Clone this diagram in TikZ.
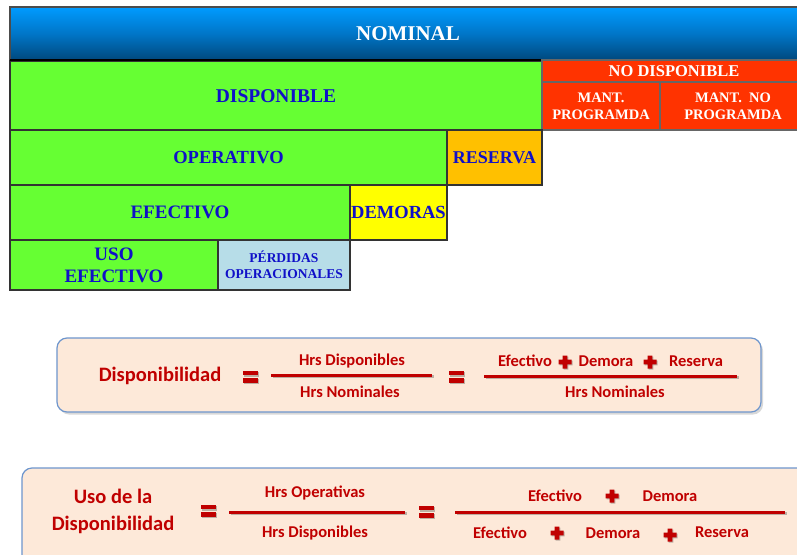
\documentclass[tikz,border=0pt]{standalone}
\usepackage{fontspec}
\setmainfont{Liberation Serif}
\newfontfamily\formfont{Carlito}
\usetikzlibrary{shadows}
\definecolor{cgreen}{RGB}{102,255,51}
\definecolor{cred}{RGB}{255,51,0}
\definecolor{corange}{RGB}{255,192,0}
\definecolor{cyellow}{RGB}{255,255,0}
\definecolor{clblue}{RGB}{183,221,232}
\definecolor{ctxtblue}{RGB}{16,16,200}
\definecolor{formred}{RGB}{192,0,0}
\definecolor{formfill}{RGB}{253,233,217}
\definecolor{formborder}{RGB}{110,150,205}
\definecolor{nomtop}{RGB}{0,155,255}
\definecolor{nombot}{RGB}{0,72,125}
\tikzset{
  cell/.style={draw=black!80, line width=1.2pt, inner sep=0pt, outer sep=0pt,
    align=center, font=\bfseries, text=ctxtblue},
  formbox/.style={draw=formborder, line width=1.2pt, fill=formfill, rounded corners=10pt,
    drop shadow={opacity=0.3, shadow xshift=2pt, shadow yshift=-2.5pt}},
  ftext/.style={font=\formfont\bfseries\fontsize{16.5}{18}\selectfont, text=formred, inner sep=0pt},
  fbig/.style={font=\formfont\bfseries\fontsize{20.5}{27}\selectfont, text=formred, inner sep=0pt, align=center},
  eqmark/.pic={
    \fill[black, opacity=0.25] (-6.5,-5.5) rectangle (8.5,-0.5);
    \fill[black, opacity=0.25] (-6.5,2) rectangle (8.5,7);
    \fill[formred] (-7.5,-6.5) rectangle (7.5,-1.8);
    \fill[formred] (-7.5,1.2) rectangle (7.5,5.8);
  },
  plusmark/.pic={
    \fill[black, opacity=0.25, shift={(1,1)}] (-2.4,-6.5)--(2.4,-6.5)--(2.4,-2.4)--(6.5,-2.4)--(6.5,2.4)--(2.4,2.4)--(2.4,6.5)--(-2.4,6.5)--(-2.4,2.4)--(-6.5,2.4)--(-6.5,-2.4)--(-2.4,-2.4)--cycle;
    \fill[formred] (-2.4,-6.5)--(2.4,-6.5)--(2.4,-2.4)--(6.5,-2.4)--(6.5,2.4)--(2.4,2.4)--(2.4,6.5)--(-2.4,6.5)--(-2.4,2.4)--(-6.5,2.4)--(-6.5,-2.4)--(-2.4,-2.4)--cycle;
  },
}
\newcommand{\fracline}[3]{%
  \draw[black, opacity=0.25, line width=3pt] (#1+1.5,#3+1.5) -- (#2+1.5,#3+1.5);
  \draw[formred, line width=3pt] (#1,#3) -- (#2,#3);}
\begin{document}
\begin{tikzpicture}[x=1pt, y=-1pt]
\useasboundingbox (0,0) rectangle (797,554);
\clip (0,0) rectangle (797,554);
\fill[white] (0,0) rectangle (797,554);
% top blocks
\node[cell, draw=black!70, top color=nomtop, bottom color=nombot, middle color={rgb,255:red,0;green,118;blue,200},
  minimum width=796pt, minimum height=53pt, text=white, font=\bfseries\fontsize{21}{24}\selectfont]
  (nominal) at (408,33.5) {NOMINAL};
\node[cell, fill=cgreen, minimum width=532pt, minimum height=70pt, font=\bfseries\fontsize{19.5}{22}\selectfont]
  (disp) at (276,96) {DISPONIBLE};
\draw[black, line width=2pt] (nominal.south west) -- (nominal.south east);
\node[cell, fill=cred, draw=black!60, minimum width=264pt, minimum height=22pt, text=white, font=\bfseries\fontsize{16.5}{18}\selectfont]
  (nodisp) at (674,71) {NO DISPONIBLE};
\node[cell, fill=cred, draw=black!60, minimum width=118pt, minimum height=48pt, text=white, font=\bfseries\fontsize{14.5}{17}\selectfont]
  (mantp) at (601,106) {MANT.\\PROGRAMDA};
\node[cell, fill=cred, draw=black!60, minimum width=146pt, minimum height=48pt, text=white, font=\bfseries\fontsize{14.5}{17}\selectfont]
  (mantnp) at (733,106) {MANT.~~NO\\PROGRAMDA};
\node[cell, fill=cgreen, minimum width=437pt, minimum height=55pt, font=\bfseries\fontsize{18.5}{21}\selectfont]
  (oper) at (228.5,157.5) {OPERATIVO};
\node[cell, fill=corange, minimum width=95pt, minimum height=55pt, font=\bfseries\fontsize{18}{21}\selectfont]
  (reserva) at (494.5,157.5) {RESERVA};
\node[cell, fill=cgreen, minimum width=340pt, minimum height=55pt, font=\bfseries\fontsize{19}{21}\selectfont]
  (efect) at (180,212.5) {EFECTIVO};
\node[cell, fill=cyellow, minimum width=97pt, minimum height=55pt, font=\bfseries\fontsize{18.5}{21}\selectfont]
  (demoras) at (398.5,212.5) {DEMORAS};
\node[cell, fill=cgreen, minimum width=208pt, minimum height=50pt, font=\bfseries\fontsize{19}{22}\selectfont]
  (uso) at (114,265) {USO\\EFECTIVO};
\node[cell, fill=clblue, minimum width=132pt, minimum height=50pt, font=\bfseries\fontsize{13.5}{16}\selectfont]
  (perd) at (284,265) {PÉRDIDAS\\OPERACIONALES};
% formula 1
\draw[formbox] (57,338) rectangle (761,412);
\node[fbig] (d1) at (160,376) {Disponibilidad};
\pic at (250,377) {eqmark};
\fracline{271}{432}{375}
\node[ftext] (hd1) at (352,361) {Hrs Disponibles};
\node[ftext] (hn1) at (350,392) {Hrs Nominales};
\pic at (456,377) {eqmark};
\fracline{484}{737}{376}
\node[ftext] (e1) at (525,361) {Efectivo};
\pic at (565,362) {plusmark};
\node[ftext] (dm1) at (606,361) {Demora};
\pic at (650,362) {plusmark};
\node[ftext] (r1) at (696,361) {Reserva};
\node[ftext] (hn2) at (615,392) {Hrs Nominales};
% formula 2
\draw[formbox] (22,468) rectangle (815,580);
\node[fbig] (u2) at (113,511) {Uso de la\\Disponibilidad};
\pic at (208,511) {eqmark};
\fracline{229}{405}{512}
\node[ftext] (ho2) at (315,493) {Hrs Operativas};
\node[ftext] (hd2) at (315,533) {Hrs Disponibles};
\pic at (426,512) {eqmark};
\fracline{455}{785}{512}
\node[ftext] (e2) at (555,496) {Efectivo};
\pic at (612,496) {plusmark};
\node[ftext] (dm2) at (670,496) {Demora};
\node[ftext] (e3) at (500,533) {Efectivo};
\pic at (557,533) {plusmark};
\node[ftext] (dm3) at (613,533) {Demora};
\pic at (670,535) {plusmark};
\node[ftext] (r3) at (722,532) {Reserva};
\end{tikzpicture}
\end{document}
